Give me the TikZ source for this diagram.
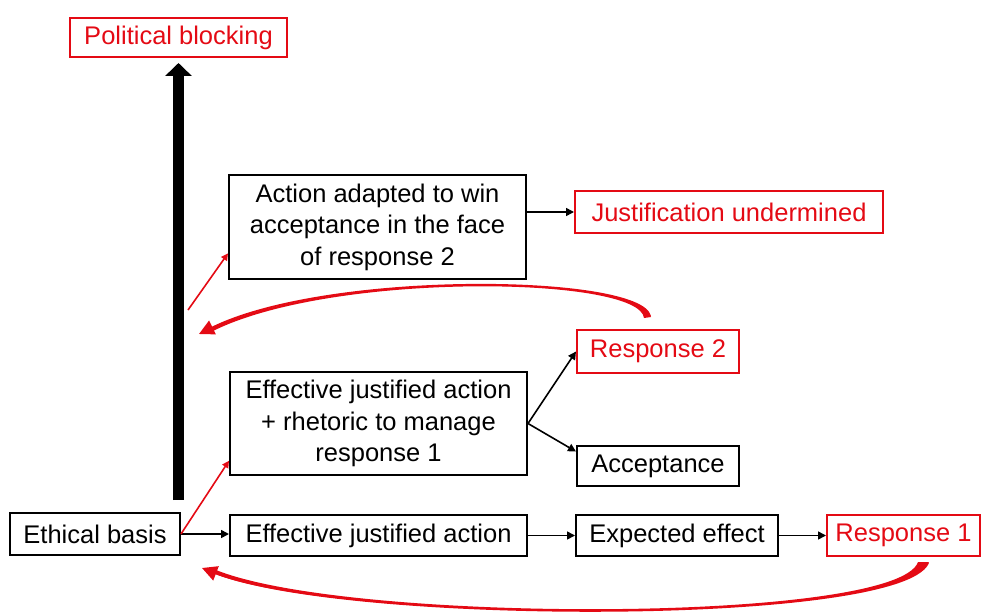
\documentclass[tikz,border=0pt]{standalone}
\usepackage{fontspec}
\setmainfont{Liberation Sans}
\usetikzlibrary{arrows.meta,calc}
\definecolor{pptred}{RGB}{228,10,20}
\begin{document}
\begin{tikzpicture}[x=1pt,y=-1pt,
  box/.style={draw=black, line width=2pt, inner sep=0pt, align=center,
    font=\fontsize{25.5}{31.5}\selectfont, text=black},
  redbox/.style={box, draw=pptred, text=pptred},
  blk/.style={draw=black, line width=1.6pt, -{Triangle[width=8pt,length=8pt]}},
  redln/.style={draw=pptred, line width=1.6pt, -{Triangle[width=7pt,length=7pt]}},
  redcurve/.style={draw=pptred, line width=1.8pt, -{Triangle[width=15pt,length=15pt]}},
  crescent/.style={fill=pptred, draw=none},
]
\useasboundingbox (0,0) rectangle (982,615);

\node[redbox, minimum width=217pt, minimum height=39pt] (pol) at (178.5,37.5) {Political blocking};
\node[box, minimum width=297pt, minimum height=104pt] (act2) at (377.5,227) {Action adapted to win\\acceptance in the face\\of response 2};
\node[redbox, minimum width=308pt, minimum height=42pt] (just) at (729,212) {Justification undermined};
\node[redbox, minimum width=162pt, minimum height=43pt] (resp2) at (658,351.5) {Response 2};
\node[box, minimum width=297pt, minimum height=103pt] (eff2) at (378.5,423.5) {Effective justified action\\+ rhetoric to manage\\response 1};
\node[box, minimum width=162pt, minimum height=40pt] (acc) at (658,466) {Acceptance};
\node[box, minimum width=170pt, minimum height=42pt] (eth) at (95,534) {Ethical basis};
\node[box, minimum width=297pt, minimum height=41pt] (eff) at (378.5,535.5) {Effective justified action};
\node[box, minimum width=202pt, minimum height=41pt] (exp) at (677,535.5) {Expected effect};
\node[redbox, minimum width=153pt, minimum height=41pt] (resp1) at (903.5,535.5) {Response 1};

% thick vertical arrow
\coordinate (tb) at (178.5,500);
\coordinate (tt) at ($(pol.south)+(0,5)$);
\draw[line width=11pt, draw=black, -{Triangle[width=26pt,length=13pt]}] (tb) -- (tt);

% black connectors
\draw[blk] (eth.east) -- (eth.east -| eff.west);
\draw[blk] (eff.east) -- (exp.west);
\draw[blk] (exp.east) -- (resp1.west);
\draw[blk] (act2.east |- just.west) -- (just.west);
\draw[blk] (eff2.east) -- (resp2.west);
\draw[blk] (eff2.east) -- (acc.170);

% red straight connectors
\draw[redln] (eth.east) -- (eff2.194);
\coordinate (s2) at (188,310);
\draw[redln] (s2) -- (act2.190);

% red curved arrows
\coordinate (c1s) at (650,316);
\coordinate (c1e) at (199,334);
\draw[redcurve] (c1s) .. controls (640,275) and (330,270) .. (c1e);
\fill[crescent] (651,317) .. controls (641,275) and (330,270) .. (210,329)
   -- (211,332) .. controls (330,271) and (640,276) .. (644,318) -- cycle;
\coordinate (c2s) at (928,563);
\coordinate (c2e) at (202,568);
\draw[redcurve] (c2s) .. controls (900,625) and (350,625) .. (c2e);
\fill[crescent] (929,562) .. controls (901,625) and (350,625) .. (215,574)
   -- (216,570) .. controls (350,624) and (897,623) .. (918,562) -- cycle;
\end{tikzpicture}
\end{document}
